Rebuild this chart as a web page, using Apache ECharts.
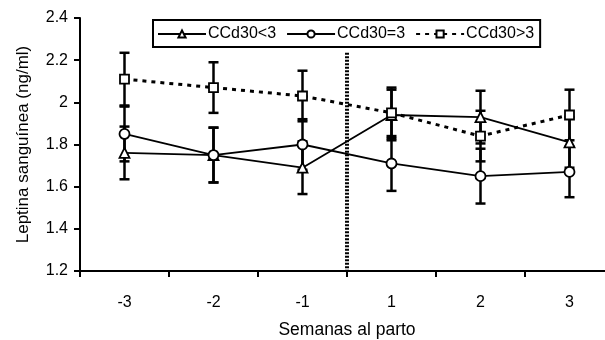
<!DOCTYPE html>
<html>
<head>
<meta charset="utf-8">
<script src="https://cdn.jsdelivr.net/npm/echarts@6/dist/echarts.min.js"></script>
<style>html,body{margin:0;padding:0;background:#fff;}#c{width:605px;height:340px;}</style>
</head>
<body>
<div id="c"></div>
<script>
var categories = ['-3', '-2', '-1', '1', '2', '3'];
var yTicks = [1.2, 1.4, 1.6, 1.8, 2.0, 2.2, 2.4];
var seriesNames = ['CCd30<3', 'CCd30=3', 'CCd30>3'];
var lt3 = [1.76, 1.75, 1.69, 1.94, 1.93, 1.81];
var lt3Err = [0.125, 0.13, 0.125, 0.12, 0.125, 0.12];
var eq3 = [1.85, 1.75, 1.80, 1.71, 1.65, 1.67];
var eq3Err = [0.13, 0.13, 0.12, 0.13, 0.13, 0.12];
var gt3 = [2.11, 2.07, 2.03, 1.95, 1.84, 1.94];
var gt3Err = [0.125, 0.12, 0.12, 0.12, 0.12, 0.12];
var dividerX = 2.5;           // between "-1" and "1"
var dividerRange = [2.235, 1.2];

var FONT = 'Liberation Sans, Arial, sans-serif';

function errData(vals, errs) {
  return vals.map(function (v, i) { return [i, v - errs[i], v + errs[i]]; });
}
function errSeries(vals, errs) {
  return {
    type: 'custom',
    xAxisIndex: 0, yAxisIndex: 0,
    z: 1,
    silent: true,
    data: errData(vals, errs),
    encode: { x: 0, y: [1, 2] },
    renderItem: function (params, api) {
      var lo = api.coord([api.value(0), api.value(1)]);
      var hi = api.coord([api.value(0), api.value(2)]);
      var w = 5;
      var st = { stroke: '#000', lineWidth: 2.5 };
      return {
        type: 'group',
        children: [
          { type: 'line', shape: { x1: lo[0], y1: lo[1], x2: hi[0], y2: hi[1] }, style: st },
          { type: 'line', shape: { x1: lo[0] - w, y1: lo[1], x2: lo[0] + w, y2: lo[1] }, style: st },
          { type: 'line', shape: { x1: hi[0] - w, y1: hi[1], x2: hi[0] + w, y2: hi[1] }, style: st }
        ]
      };
    }
  };
}
function lineSeries(name, vals, symbol, lineType, lw) {
  return {
    name: name,
    type: 'line',
    xAxisIndex: 0, yAxisIndex: 0,
    z: 3,
    data: vals,
    symbol: symbol,
    symbolSize: symbol === 'rect' ? 9 : 10,
    showAllSymbol: true,
    itemStyle: { color: '#fff', borderColor: '#000', borderWidth: 1.8 },
    lineStyle: { color: '#000', width: lw, type: lineType },
    emphasis: { disabled: true },
    animation: false
  };
}

var chart = echarts.init(document.getElementById('c'), null, { renderer: 'canvas' });
chart.setOption({
  animation: false,
  backgroundColor: '#fff',
  textStyle: { fontFamily: FONT, color: '#000' },
  grid: { left: 80, top: 18, width: 534, height: 253, outerBoundsMode: 'none', containLabel: false },
  legend: {
    data: seriesNames,
    left: 153, top: 20,
    padding: [6, 6, 5, 4],
    itemGap: 10,
    itemWidth: 48, itemHeight: 9,
    borderColor: '#000', borderWidth: 2,
    backgroundColor: '#fff',
    textStyle: { fontFamily: FONT, fontSize: 16, color: '#000', padding: [0, 0, 0, -3] }
  },
  xAxis: [{
    type: 'category',
    data: categories,
    boundaryGap: true,
    axisLine: { onZero: false, lineStyle: { color: '#000', width: 2 } },
    axisTick: { show: true, length: 6, lineStyle: { color: '#000', width: 2 } },
    axisLabel: { color: '#000', fontSize: 16, margin: 24, fontFamily: FONT },
    name: 'Semanas al parto',
    nameLocation: 'middle',
    nameGap: 50,
    nameTextStyle: { fontSize: 17.5, color: '#000', fontFamily: FONT },
    splitLine: { show: false }
  }, {
    type: 'value',
    min: -0.5, max: 5.5,
    show: false
  }],
  yAxis: {
    type: 'value',
    min: yTicks[0], max: yTicks[yTicks.length - 1], interval: 0.2,
    axisLine: { show: true, onZero: false, lineStyle: { color: '#000', width: 2 } },
    axisTick: { show: true, length: 6, lineStyle: { color: '#000', width: 2 } },
    axisLabel: { color: '#000', fontSize: 16, margin: 12, fontFamily: FONT },
    splitLine: { show: false },
    name: 'Leptina sanguínea (ng/ml)',
    nameLocation: 'middle',
    nameGap: 48,
    nameTextStyle: { fontSize: 17, color: '#000', fontFamily: FONT }
  },
  series: [
    {
      type: 'line',
      xAxisIndex: 1, yAxisIndex: 0,
      data: [[dividerX, dividerRange[0]], [dividerX, dividerRange[1]]],
      symbol: 'none',
      lineStyle: { color: '#000', width: 4, type: [2, 1.5] },
      silent: true, z: 0
    },
    errSeries(lt3, lt3Err),
    errSeries(eq3, eq3Err),
    errSeries(gt3, gt3Err),
    lineSeries(seriesNames[0], lt3, 'triangle', 'solid', 1.8),
    lineSeries(seriesNames[1], eq3, 'circle', 'solid', 1.8),
    lineSeries(seriesNames[2], gt3, 'rect', [4, 5], 3)
  ]
});
</script>
</body>
</html>
